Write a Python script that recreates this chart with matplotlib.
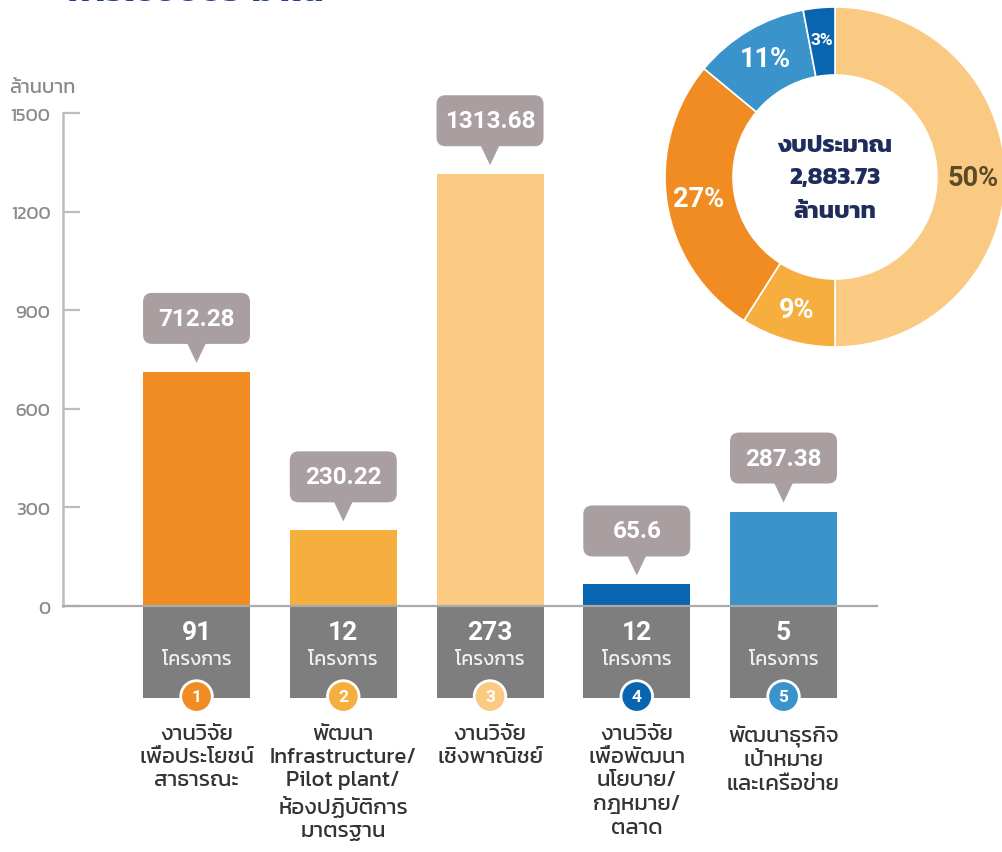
import math
import matplotlib
matplotlib.use("Agg")
import matplotlib.pyplot as plt
import matplotlib.transforms as mtransforms
from matplotlib.patches import FancyBboxPatch, Polygon, Rectangle, Circle
from matplotlib import font_manager as fm
from matplotlib.ft2font import FT2Font

# ---------------- data ----------------
categories = ["งานวิจัย\nเพื่อประโยชน์\nสาธารณะ",
              "พัฒนา\nInfrastructure/\nPilot plant/\nห้องปฏิบัติการ\nมาตรฐาน",
              "งานวิจัย\nเชิงพาณิชย์",
              "งานวิจัย\nเพื่อพัฒนา\nนโยบาย/\nกฎหมาย/\nตลาด",
              "พัฒนาธุรกิจ\nเป้าหมาย\nและเครือข่าย"]
budget = [712.28, 230.22, 1313.68, 65.6, 287.38]
value_labels = ["712.28", "230.22", "1313.68", "65.6", "287.38"]
projects = [91, 12, 273, 12, 5]
bar_colors = ["#F08C21", "#F6AE3F", "#FAC982", "#0A65B0", "#3B93CB"]
y_ticks = [0, 300, 600, 900, 1200, 1500]

pie_values = [50, 9, 27, 11, 3]
pie_labels = ["50%", "9%", "27%", "11%", "3%"]
pie_colors = ["#FAC982", "#F6AE3F", "#F08C21", "#3B93CB", "#0A65B0"]
pie_text_colors = ["#5A4A28", "white", "white", "white", "white"]
center_lines = ["งบประมาณ", "2,883.73", "ล้านบาท"]
y_unit = "ล้านบาท"
project_word = "โครงการ"
title_text = "การใช้งบประมาณ"

# ---------------- fonts ----------------
def find_thai():
    prefs = ['Noto Sans Thai', 'Noto Sans Thai UI', 'Noto Sans Thai Looped', 'Kanit', 'Prompt',
             'Sarabun', 'Loma', 'Garuda', 'Waree', 'Umpush', 'Tlwg Typo', 'Laksaman',
             'Norasi', 'Kinnari', 'Sawasdee', 'Purisa', 'Tahoma', 'Leelawadee']
    cands = {}
    for f in fm.fontManager.ttflist:
        try:
            cmap = FT2Font(f.fname).get_charmap()
        except Exception:
            continue
        if 0x0E01 in cmap and 0x0E32 in cmap:
            w = f.weight if isinstance(f.weight, int) else (700 if 'bold' in str(f.weight) else 400)
            cands.setdefault(f.name, set()).add(w)
    with_bold = [p for p in prefs if p in cands and max(cands[p]) >= 600]
    plain = [p for p in prefs if p in cands]
    if with_bold:
        return with_bold[0]
    if plain:
        return plain[0]
    return next(iter(cands), None)

thai = find_thai()
TH = [thai, 'DejaVu Sans'] if thai else ['DejaVu Sans']
NUM = ['Roboto', 'DejaVu Sans']

def num(size):
    return dict(family=NUM, weight='bold', fontsize=size)

# ---------------- figure ----------------
W, H = 1002, 853
fig = plt.figure(figsize=(W / 100, H / 100), dpi=100)
fig.patch.set_facecolor("white")

ax = fig.add_axes([63 / W, 1 - 607 / H, 814 / W, 493 / H])
n = len(budget)
xs = list(range(n))
ax.bar(xs, budget, width=0.729, color=bar_colors, zorder=2)
ax.set_xlim(-0.91, 4.637)
ax.set_ylim(0, 1500)
ax.set_yticks(y_ticks)
ax.set_yticklabels([str(v) for v in y_ticks], color="#8A8A8A", fontsize=13.5,
                   family=TH, weight='normal')
ax.tick_params(axis='y', direction='in', length=12, width=1.6, color="#BDBDBD", pad=9)
ax.set_xticks([])
for s in ["top", "right"]:
    ax.spines[s].set_visible(False)
ax.spines["left"].set_color("#BDBDBD")
ax.spines["left"].set_linewidth(1.8)
ax.spines["bottom"].set_color("#ABABAB")
ax.spines["bottom"].set_linewidth(1.6)
ax.spines["bottom"].set_zorder(5)

fig.text(9 / W, 1 - 88 / H, y_unit, color="#8A8A8A", fontsize=14.5, family=TH,
         weight='normal', ha="left", va="center")

fig.text(67 / W, 1 - 1 / H, title_text, color="#24418F", fontsize=25.5, weight="bold",
         family=TH, ha="left", va="baseline")

for i, (v, lab, p, c, cat) in enumerate(zip(budget, value_labels, projects, bar_colors, categories)):
    t = fig.dpi_scale_trans + mtransforms.ScaledTranslation(i, v, ax.transData)
    box = FancyBboxPatch((-0.535, 0.28), 1.07, 0.51,
                         boxstyle="round,pad=0,rounding_size=0.09",
                         transform=t, facecolor="#A99FA1", edgecolor="none",
                         clip_on=False, zorder=4)
    ax.add_patch(box)
    tri = Polygon([(-0.1, 0.30), (0.1, 0.30), (0.0, 0.09)], closed=True,
                  transform=t, facecolor="#A99FA1", edgecolor="none",
                  clip_on=False, zorder=4)
    ax.add_patch(tri)
    ax.text(0, 0.535, lab, transform=t, ha="center", va="center", color="white",
            zorder=6, clip_on=False, **num(17.5))

    t0 = fig.dpi_scale_trans + mtransforms.ScaledTranslation(i, 0, ax.transData)
    ax.add_patch(Rectangle((-0.535, -0.92), 1.07, 0.92, transform=t0,
                           facecolor="#7E7E7E", edgecolor="none", clip_on=False, zorder=3))
    ax.text(0, -0.255, str(p), transform=t0, ha="center", va="center",
            color="white", zorder=6, clip_on=False, **num(19))
    ax.text(0, -0.535, project_word, transform=t0, ha="center", va="center",
            color="#F0F0F0", fontsize=14, family=TH, weight='normal', zorder=6, clip_on=False)
    ax.add_patch(Circle((0, -0.905), 0.158, transform=t0, facecolor=c,
                        edgecolor="white", linewidth=2, clip_on=False, zorder=6))
    ax.text(0, -0.905, str(i + 1), transform=t0, ha="center", va="center",
            color="white", zorder=7, clip_on=False, **num(12.5))
    ax.text(0, -1.175, cat, transform=t0, ha="center", va="top", color="#333333",
            fontsize=16, family=TH, weight='normal', linespacing=1.3, zorder=6, clip_on=False)

# ---------------- donut ----------------
R = 170
cx, cy = 835, 178
ax2 = fig.add_axes([(cx - R) / W, 1 - (cy + R) / H, 2 * R / W, 2 * R / H])
wedges, _ = ax2.pie(pie_values, colors=pie_colors, startangle=90, counterclock=False,
                    radius=1.0, wedgeprops=dict(width=0.4, edgecolor="white", linewidth=1.2))
ax2.set_xlim(-1, 1)
ax2.set_ylim(-1, 1)
ax2.axis("off")
for w, lab, tc in zip(wedges, pie_labels, pie_text_colors):
    ang = math.radians((w.theta1 + w.theta2) / 2)
    r = 0.81
    size = 12.5 if lab == "3%" else 19.5
    ax2.text(r * math.cos(ang), r * math.sin(ang), lab, ha="center", va="center",
             color=tc, **num(size))

for k, yy in enumerate([0.19, 0.0, -0.20]):
    ax2.text(0, yy, center_lines[k], ha="center", va="center", color="#1E2D5C",
             fontsize=17.5, weight="bold", family=TH)

fig.savefig("out.png", dpi=100, facecolor="white")
